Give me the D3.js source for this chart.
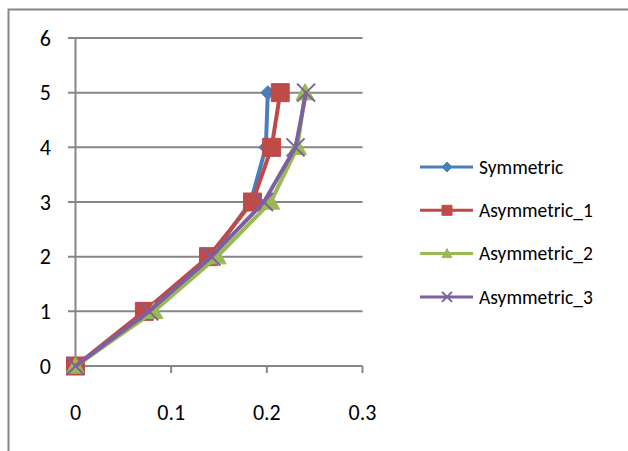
<!DOCTYPE html>
<html>
<head>
<meta charset="utf-8">
<script src="https://cdn.jsdelivr.net/npm/d3@7"></script>
<style>
  body { margin: 0; background: #fff; }
  text { font-family: Carlito, Calibri, Lato, "Open Sans", sans-serif; fill: #000; }
</style>
</head>
<body>
<svg width="628" height="451"></svg>
<script>
// Data
const levels = [0, 1, 2, 3, 4, 5];
const symmetric   = [0, 0.080, 0.142, 0.183, 0.199, 0.201];
const asymmetric1 = [0, 0.072, 0.139, 0.185, 0.205, 0.214];
const asymmetric2 = [0, 0.082, 0.148, 0.204, 0.232, 0.240];
const asymmetric3 = [0, 0.077, 0.142, 0.197, 0.230, 0.241];
const seriesNames = ["Symmetric", "Asymmetric_1", "Asymmetric_2", "Asymmetric_3"];
const xTicks = [0, 0.1, 0.2, 0.3];
const yTicks = [0, 1, 2, 3, 4, 5, 6];

const series = [
    { name: seriesNames[0], values: symmetric,   color: "#4A7EBB", marker: "diamond" },
    { name: seriesNames[1], values: asymmetric1, color: "#BE4B48", marker: "square" },
    { name: seriesNames[2], values: asymmetric2, color: "#98B954", marker: "triangle" },
    { name: seriesNames[3], values: asymmetric3, color: "#7D60A0", marker: "x" }
];

const svg = d3.select("svg");

// outer chart frame (cut off at right and bottom)
svg.append("rect")
    .attr("x", 8.5).attr("y", 9.5)
    .attr("width", 660).attr("height", 480)
    .attr("fill", "none")
    .attr("stroke", "#868686")
    .attr("stroke-width", 2);

const x = d3.scaleLinear().domain([0, 0.3]).range([75.5, 362.5]);
const y = d3.scaleLinear().domain([0, 6]).range([366, 38]);

// horizontal gridlines
svg.append("g")
    .selectAll("line")
    .data(yTicks)
    .enter().append("line")
    .attr("x1", 68).attr("x2", x(0.3))
    .attr("y1", d => y(d)).attr("y2", d => y(d))
    .attr("stroke", "#868686")
    .attr("stroke-width", 2);

// y axis line
svg.append("line")
    .attr("x1", x(0)).attr("x2", x(0))
    .attr("y1", y(6)).attr("y2", y(0) + 7)
    .attr("stroke", "#868686").attr("stroke-width", 2);

// x tick marks
svg.append("g")
    .selectAll("line")
    .data(xTicks)
    .enter().append("line")
    .attr("x1", d => x(d)).attr("x2", d => x(d))
    .attr("y1", y(0)).attr("y2", y(0) + 7)
    .attr("stroke", "#868686").attr("stroke-width", 2);

// y tick labels
svg.append("g")
    .selectAll("text")
    .data(yTicks)
    .enter().append("text")
    .attr("x", 51)
    .attr("y", d => y(d))
    .attr("dy", "0.35em")
    .attr("text-anchor", "end")
    .style("font-size", "22px")
    .text(d => d);

// x tick labels
svg.append("g")
    .selectAll("text")
    .data(xTicks)
    .enter().append("text")
    .attr("x", d => x(d))
    .attr("y", 412)
    .attr("dy", "0.35em")
    .attr("text-anchor", "middle")
    .style("font-size", "22px")
    .text(d => d);

function markerPath(type, s) {
    if (type === "diamond") return `M0,${-s}L${s},0L0,${s}L${-s},0Z`;
    if (type === "square") return `M${-s},${-s}H${s}V${s}H${-s}Z`;
    if (type === "triangle") return `M0,${-s}L${s},${s * 0.8}H${-s}Z`;
    return `M${-s},${-s}L${s},${s}M${s},${-s}L${-s},${s}`;
}

function drawMarker(g, type, color, s) {
    const p = g.append("path").attr("d", markerPath(type, s));
    if (type === "x") {
        p.attr("fill", "none").attr("stroke", color).attr("stroke-width", 2);
    } else {
        p.attr("fill", color).attr("stroke", color).attr("stroke-width", 1);
    }
}

const line = d3.line()
    .x(d => x(d[0]))
    .y(d => y(d[1]));

const markerSize = { diamond: 7, square: 9, triangle: 9, x: 9 };

series.forEach(s => {
    const pts = s.values.map((v, i) => [v, levels[i]]);
    svg.append("path")
        .datum(pts)
        .attr("d", line)
        .attr("fill", "none")
        .attr("stroke", s.color)
        .attr("stroke-width", 4)
        .attr("stroke-linejoin", "round");
    pts.forEach(p => {
        const g = svg.append("g").attr("transform", `translate(${x(p[0])},${y(p[1])})`);
        drawMarker(g, s.marker, s.color, markerSize[s.marker]);
    });
});

// legend
const legend = svg.append("g").attr("transform", "translate(420,167)");
series.forEach((s, i) => {
    const row = legend.append("g").attr("transform", `translate(0,${i * 43.3})`);
    row.append("line")
        .attr("x1", 0).attr("x2", 53)
        .attr("stroke", s.color).attr("stroke-width", 3);
    const m = row.append("g").attr("transform", "translate(27,0)");
    drawMarker(m, s.marker, s.color, 5);
    row.append("text")
        .attr("x", 59)
        .attr("dy", "0.35em")
        .style("font-size", "19.5px")
        .text(s.name);
});
</script>
</body>
</html>
